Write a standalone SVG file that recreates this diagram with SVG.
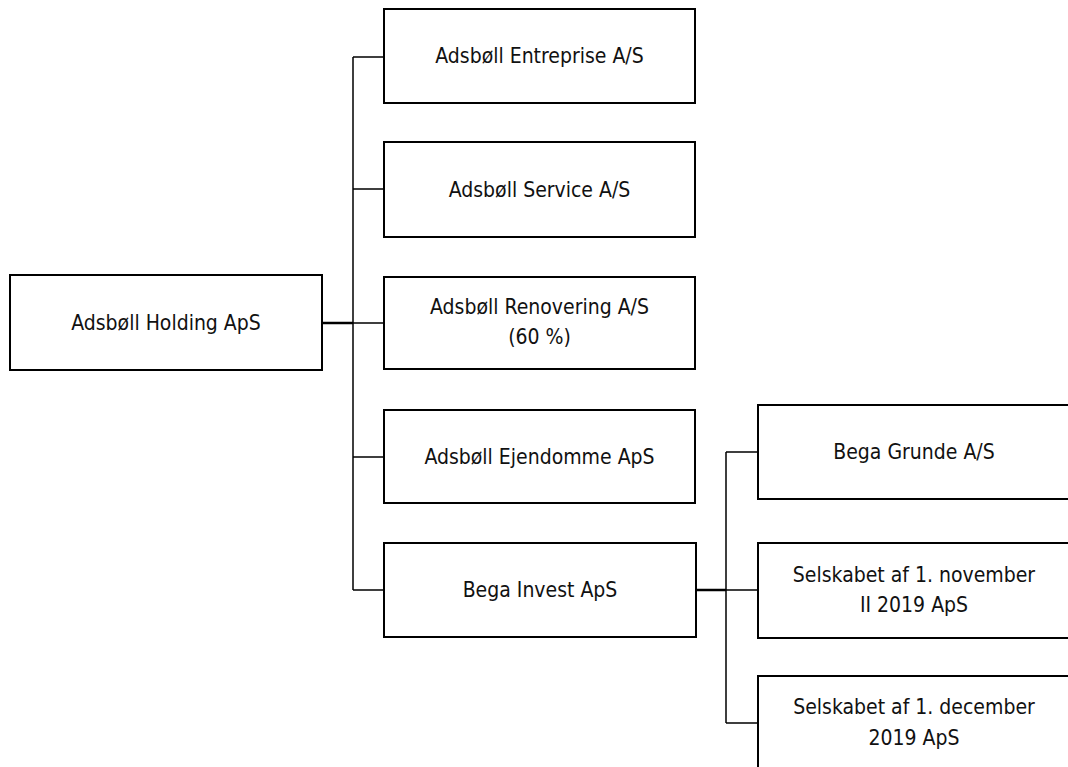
<svg xmlns="http://www.w3.org/2000/svg" width="1068" height="767" viewBox="0 0 1068 767">
<style>
.box{fill:#fff;stroke:#000;stroke-width:2}
.t{font-family:"DejaVu Sans Condensed","DejaVu Sans",sans-serif;font-stretch:condensed;font-size:21px;fill:#111;text-anchor:middle}
.c{fill:none;stroke:#000;stroke-width:1.5}
.s{fill:none;stroke:#000;stroke-width:2.5}
</style>
<rect width="1068" height="767" fill="#fff"/>
<g id="connectors">
<path class="s" d="M322 323H353"/>
<path class="c" d="M353 57V590M353 57H384M353 189H384M353 323H384M353 457H384M353 590H384"/>
<path class="s" d="M696 590H726"/>
<path class="c" d="M726 452V723M726 452H758M726 590H758M726 723H758"/>
</g>
<g id="holding"><rect class="box" x="10" y="275" width="312" height="95"/><text class="t" x="166" y="330">Adsbøll Holding ApS</text></g>
<g id="entreprise"><rect class="box" x="384" y="9" width="311" height="94"/><text class="t" x="539.5" y="63">Adsbøll Entreprise A/S</text></g>
<g id="service"><rect class="box" x="384" y="142" width="311" height="95"/><text class="t" x="539.5" y="197">Adsbøll Service A/S</text></g>
<g id="renovering"><rect class="box" x="384" y="277" width="311" height="92"/><text class="t" x="539.5" y="314">Adsbøll Renovering A/S</text><text class="t" x="539.5" y="344">(60 %)</text></g>
<g id="ejendomme"><rect class="box" x="384" y="410" width="311" height="93"/><text class="t" x="539.5" y="464">Adsbøll Ejendomme ApS</text></g>
<g id="bega-invest"><rect class="box" x="384" y="543" width="312" height="94"/><text class="t" x="540" y="597">Bega Invest ApS</text></g>
<g id="bega-grunde"><rect class="box" x="758" y="405" width="312" height="94"/><text class="t" x="914" y="459">Bega Grunde A/S</text></g>
<g id="selskabet-nov"><rect class="box" x="758" y="543" width="312" height="95"/><text class="t" x="914" y="582">Selskabet af 1. november</text><text class="t" x="914" y="612">II 2019 ApS</text></g>
<g id="selskabet-dec"><rect class="box" x="758" y="676" width="312" height="95"/><text class="t" x="914" y="714">Selskabet af 1. december</text><text class="t" x="914" y="745">2019 ApS</text></g>
</svg>
